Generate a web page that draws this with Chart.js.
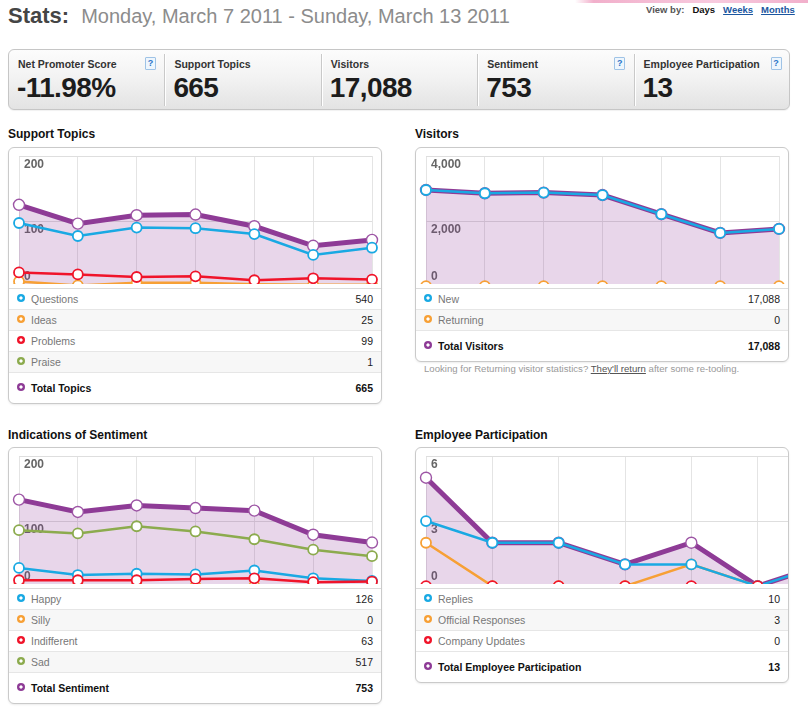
<!DOCTYPE html>
<html>
<head>
<meta charset="utf-8">
<script src="https://cdn.jsdelivr.net/npm/chart.js@4.4.1/dist/chart.umd.min.js"></script>
<style>
html,body{margin:0;padding:0;background:#fff}
body{font-family:"Liberation Sans",Arial,Helvetica,sans-serif;width:808px;height:713px;position:relative;overflow:hidden}
.abs{position:absolute}
#pink{left:575px;top:0;width:233px;height:3px;background:linear-gradient(90deg,rgba(230,110,160,0),rgba(230,110,160,.55) 8%,rgba(240,150,190,.5) 60%,rgba(230,110,160,.55))}
#title{left:8px;top:5px;white-space:nowrap;line-height:22px}
#title b{font-size:22px;color:#454545}
#title span{font-size:20px;color:#8c8c8c;margin-left:12px}
#viewby{left:646px;top:4px;font-size:9.5px;font-weight:bold;line-height:12px;white-space:nowrap;color:#555}
#viewby span,#viewby a{margin-left:8px}
#viewby .cur{color:#111}
#viewby a{color:#1b56a0;text-decoration:underline}
#stats{left:8px;top:49px;width:780px;height:59px;border:1px solid #c6c6c6;border-radius:6px;background:linear-gradient(#fcfcfc,#f3f3f3 45%,#e3e3e3);box-shadow:0 1px 1px rgba(0,0,0,.06)}
.cell{position:absolute;top:0;height:59px;width:156px}
.cell .lab{position:absolute;left:9px;top:8px;font-size:10.5px;font-weight:bold;color:#333;line-height:12px;white-space:nowrap}
.cell .val{position:absolute;left:8px;top:24px;font-size:28px;font-weight:bold;color:#1c1c1c;line-height:28px;letter-spacing:-.6px;white-space:nowrap}
.cell .help{position:absolute;right:9px;top:7px;width:9px;height:11px;border:1px solid #9fc3e6;background:#eef6fd;border-radius:1px;color:#2b74c7;font-size:9px;font-weight:bold;line-height:11px;text-align:center}
.sep{position:absolute;top:4px;width:1px;height:52px;background:#c9c9c9;box-shadow:1px 0 0 #fff}
h3{position:absolute;margin:0;font-size:12px;font-weight:bold;color:#111;line-height:14px;white-space:nowrap}
.panel{position:absolute;width:372px;border:1px solid #cacaca;border-radius:6px;background:#fff;overflow:hidden;box-shadow:0 1px 2px rgba(0,0,0,.08)}
.chartbox{height:140px;position:relative}
.clip{height:136px;overflow:hidden;position:relative}
.clip canvas{display:block}
.rows{border-top:1px solid #dadada}
.row{position:relative;height:20px;line-height:20px;border-bottom:1px solid #e6e6e6;font-size:10.5px}
.row.alt{background:#f7f7f7}
.row.tot{height:30px;line-height:30px;border-bottom:none;font-weight:bold}
.row .dot{position:absolute;left:8px;top:5px;width:8px;height:8px;border-radius:50%}
.row.tot .dot{top:10px}
.row .nm{position:absolute;left:22px;color:#777;white-space:nowrap}
.row.tot .nm{color:#111}
.row .v{position:absolute;right:8px;color:#222}
.row.tot .v{color:#111}
#note{left:424px;top:363px;font-size:9.6px;color:#9a9a9a;line-height:12px;white-space:nowrap}
#note a{color:#555;text-decoration:underline}
</style>
</head>
<body>
<div id="pink" class="abs"></div>
<div id="title" class="abs"><b>Stats:</b><span>Monday, March 7 2011 - Sunday, March 13 2011</span></div>
<div id="viewby" class="abs">View by:<span class="cur">Days</span><a>Weeks</a><a>Months</a></div>
<div id="stats" class="abs"></div>

<h3 style="left:8px;top:127px">Support Topics</h3>
<h3 style="left:415px;top:127px">Visitors</h3>
<h3 style="left:8px;top:428px">Indications of Sentiment</h3>
<h3 style="left:415px;top:428px">Employee Participation</h3>

<div class="panel" style="left:8px;top:147px"><div class="chartbox"><div class="clip"><canvas id="cTopics" width="372" height="145"></canvas></div></div><div class="rows" id="rTopics"></div></div>
<div class="panel" style="left:415px;top:147px"><div class="chartbox"><div class="clip"><canvas id="cVisitors" width="372" height="145"></canvas></div></div><div class="rows" id="rVisitors"></div></div>
<div id="note" class="abs">Looking for Returning visitor statistics? <a>They'll return</a> after some re-tooling.</div>
<div class="panel" style="left:8px;top:447px"><div class="chartbox"><div class="clip"><canvas id="cSentiment" width="372" height="145"></canvas></div></div><div class="rows" id="rSentiment"></div></div>
<div class="panel" style="left:415px;top:447px"><div class="chartbox"><div class="clip"><canvas id="cEmployee" width="417" height="145"></canvas></div></div><div class="rows" id="rEmployee"></div></div>

<script>
// ---------- data ----------
const days = ['Mar 7','Mar 8','Mar 9','Mar 10','Mar 11','Mar 12','Mar 13'];

const statLabels = ['Net Promoter Score','Support Topics','Visitors','Sentiment','Employee Participation'];
const statValues = ['-11.98%','665','17,088','753','13'];
const statHelp = [true,false,false,true,true];

const topicsTicks = [0,100,200];
const topicsNames = ['Questions','Ideas','Problems','Praise'];
const topicsQuestions = [97,77,90,89,80,48,59];
const topicsIdeas = [7,1,5,5,3,2,2];
const topicsProblems = [21,18,14,15,9,12,10];
const topicsPraise = [0,0,0,1,0,0,0];
const topicsTotal = [125,96,109,110,92,62,71];

const visitorsTicks = [0,2000,4000];
const visitorsNames = ['New','Returning'];
const visitorsNew = [2955,2855,2875,2800,2210,1635,1758];
const visitorsReturning = [0,0,0,0,0,0,0];
const visitorsTotal = [2955,2855,2875,2800,2210,1635,1758];

const sentimentTicks = [0,100,200];
const sentimentNames = ['Happy','Silly','Indifferent','Sad'];
const sentimentHappy = [28,17,19,18,24,12,8];
const sentimentSilly = [0,0,0,0,0,0,0];
const sentimentIndifferent = [9,9,9,11,12,6,7];
const sentimentSad = [86,81,92,84,72,56,46];
const sentimentTotal = [133,114,124,120,116,79,67];

const employeeTicks = [0,3,6];
const employeeNames = ['Replies','Official Responses','Company Updates'];
const employeeReplies = [3,2,2,1,1,0,1];
const employeeOfficial = [2,0,0,0,1,0,0];
const employeeCompany = [0,0,0,0,0,0,0];
const employeeTotal = [5,2,2,1,2,0,1];

// ---------- styles ----------
const BLUE='#19a9e3', ORANGE='#f7a035', RED='#f0142a', GREEN='#8cab4e', PURPLE='#8e3b96';
const FONT='"Liberation Sans", Arial, Helvetica, sans-serif';
Chart.defaults.font.family = FONT;

// stats bar
const statsEl = document.getElementById('stats');
statLabels.forEach((l,i)=>{
  const c=document.createElement('div'); c.className='cell'; c.style.left=(i*156.4)+'px';
  c.innerHTML='<div class="lab">'+l+'</div><div class="val">'+statValues[i]+'</div>'+(statHelp[i]?'<div class="help">?</div>':'');
  statsEl.appendChild(c);
  if(i>0){const s=document.createElement('div');s.className='sep';s.style.left=(i*156.4-1)+'px';statsEl.appendChild(s);}
});

function fmt(v){return v.toLocaleString('en-US');}
function sum(a){return a.reduce((s,x)=>s+x,0);}

function buildRows(id, names, colors, series, totalName, total){
  const el=document.getElementById(id);
  let h='';
  names.forEach((n,i)=>{
    h+='<div class="row'+(i%2?' alt':'')+'"><i class="dot" style="background:radial-gradient(circle,#fff 0 1.3px,'+colors[i]+' 1.9px)"></i><span class="nm">'+n+'</span><span class="v">'+fmt(sum(series[i]))+'</span></div>';
  });
  h+='<div class="row tot"><i class="dot" style="background:radial-gradient(circle,#fff 0 1.3px,'+PURPLE+' 1.9px)"></i><span class="nm">'+totalName+'</span><span class="v">'+fmt(sum(total))+'</span></div>';
  el.innerHTML=h;
}

const insideTicks = {
  id:'insideTicks',
  beforeDatasetsDraw(chart, args, opts){
    const y=chart.scales.y, ctx=chart.ctx, a=chart.chartArea;
    ctx.save();
    ctx.font='bold 12px '+FONT;
    ctx.fillStyle='#666';
    ctx.textAlign='left';
    ctx.textBaseline='middle';
    (opts.values||[]).forEach(v=>{
      let py=y.getPixelForValue(v);
      py = (v===y.min) ? py-9 : py+9;
      ctx.fillText(fmt(v), a.left+5, py);
    });
    ctx.restore();
  }
};

function line(label, data, color){
  return {label, data, borderColor:color, backgroundColor:color, borderWidth:2.5,
    pointRadius:5, pointBorderWidth:1.8, pointBackgroundColor:'#fff', pointBorderColor:color,
    tension:0, fill:false};
}
function totalLine(label, data){
  return {label, data, borderColor:PURPLE, backgroundColor:'rgba(142,51,148,0.2)', borderWidth:5,
    pointRadius:5.5, pointBorderWidth:1.4, pointBackgroundColor:'#fff', pointBorderColor:'#9d55a5',
    tension:0, fill:'origin'};
}

function makeChart(id, datasets, ticks){
  return new Chart(document.getElementById(id), {
    type:'line',
    data:{labels:days, datasets},
    options:{
      responsive:false, animation:false, devicePixelRatio:1,
      layout:{padding:{left:10,right:9,top:8,bottom:0}},
      plugins:{legend:{display:false}, tooltip:{enabled:false}, insideTicks:{values:ticks}},
      scales:{
        x:{grid:{color:'#e4e4e4',drawTicks:false}, border:{display:false}, ticks:{display:false},
           afterFit(s){ s.height = 0; }},
        y:{min:ticks[0], max:ticks[ticks.length-1], grid:{color:'#dedede',drawTicks:false}, border:{display:false},
           ticks:{display:false, stepSize:ticks[1]-ticks[0]}, afterFit(s){ s.width = 0; }}
      }
    },
    plugins:[insideTicks]
  });
}

makeChart('cTopics', [
  line('Questions', topicsQuestions, BLUE),
  line('Problems', topicsProblems, RED),
  line('Ideas', topicsIdeas, ORANGE),
  line('Praise', topicsPraise, GREEN),
  totalLine('Total Topics', topicsTotal)
], topicsTicks);

makeChart('cVisitors', [
  line('New', visitorsNew, BLUE),
  line('Returning', visitorsReturning, ORANGE),
  totalLine('Total Visitors', visitorsTotal)
], visitorsTicks);

makeChart('cSentiment', [
  line('Indifferent', sentimentIndifferent, RED),
  line('Happy', sentimentHappy, BLUE),
  line('Silly', sentimentSilly, ORANGE),
  line('Sad', sentimentSad, GREEN),
  totalLine('Total Sentiment', sentimentTotal)
], sentimentTicks);

makeChart('cEmployee', [
  line('Company Updates', employeeCompany, RED),
  line('Replies', employeeReplies, BLUE),
  line('Official Responses', employeeOfficial, ORANGE),
  totalLine('Total Employee Participation', employeeTotal)
], employeeTicks);

buildRows('rTopics', topicsNames, [BLUE,ORANGE,RED,GREEN], [topicsQuestions,topicsIdeas,topicsProblems,topicsPraise], 'Total Topics', topicsTotal);
buildRows('rVisitors', visitorsNames, [BLUE,ORANGE], [visitorsNew,visitorsReturning], 'Total Visitors', visitorsTotal);
buildRows('rSentiment', sentimentNames, [BLUE,ORANGE,RED,GREEN], [sentimentHappy,sentimentSilly,sentimentIndifferent,sentimentSad], 'Total Sentiment', sentimentTotal);
buildRows('rEmployee', employeeNames, [BLUE,ORANGE,RED], [employeeReplies,employeeOfficial,employeeCompany], 'Total Employee Participation', employeeTotal);
</script>
</body>
</html>
